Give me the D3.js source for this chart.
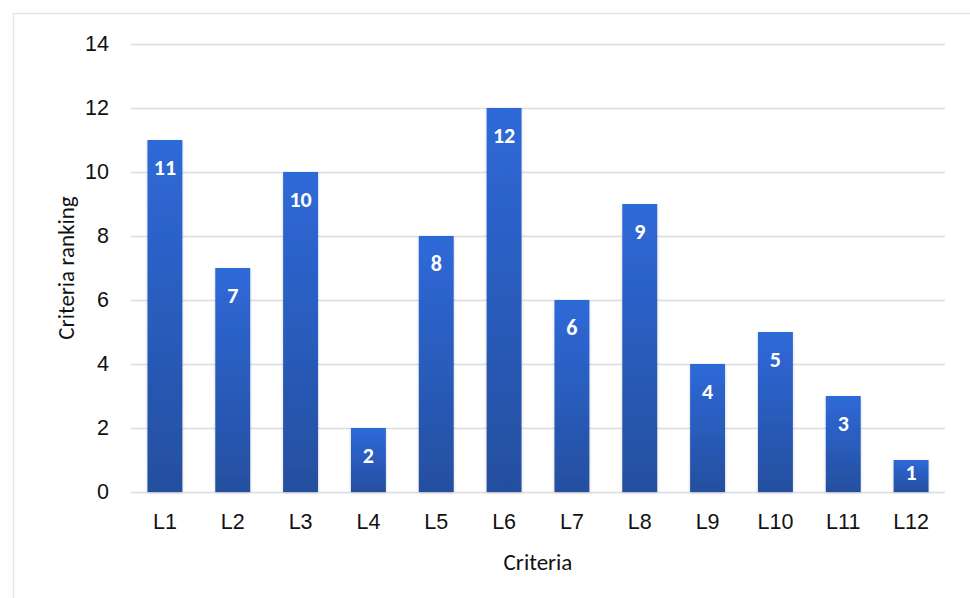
<!DOCTYPE html>
<html><head><meta charset="utf-8">
<script src="https://cdn.jsdelivr.net/npm/d3@7"></script>
<style>body{margin:0;background:#fff;}svg{display:block;font-family:Carlito,Calibri,Lato,sans-serif;}</style>
</head><body>
<script>
const categories = ["L1","L2","L3","L4","L5","L6","L7","L8","L9","L10","L11","L12"];
const values = [11,7,10,2,8,12,6,9,4,5,3,1];
const yTicks = [0,2,4,6,8,10,12,14];

const W=970,H=598;
const m={left:131,right:25,top:44,bottom:106};
const svg=d3.select("body").append("svg").attr("width",W).attr("height",H);
svg.append("rect").attr("x",13.5).attr("y",13.5).attr("width",W).attr("height",H).attr("fill","none").attr("stroke","#e3e6ea").attr("stroke-width",1.5);

const defs=svg.append("defs");
const g1=defs.append("linearGradient").attr("id","bg").attr("x1",0).attr("y1",0).attr("x2",0).attr("y2",1);
g1.append("stop").attr("offset","0%").attr("stop-color","#2f69d9");
g1.append("stop").attr("offset","100%").attr("stop-color","#244f9f");
const f=defs.append("filter").attr("id","sh").attr("x","-20%").attr("y","-5%").attr("width","140%").attr("height","110%");
f.append("feDropShadow").attr("dx",0).attr("dy",1).attr("stdDeviation",1.5).attr("flood-color","#000").attr("flood-opacity",0.18);

const x=d3.scaleBand().domain(categories).range([m.left,W-m.right]).paddingInner(0.485).paddingOuter(0.2425);
const y=d3.scaleLinear().domain([0,14]).range([H-m.bottom,m.top]);

const ga=svg.append("g").attr("transform",`translate(${m.left},0)`)
  .call(d3.axisLeft(y).tickValues(yTicks).tickSize(-(W-m.right-m.left)).tickPadding(22));
ga.select(".domain").remove();
ga.selectAll(".tick line").attr("stroke","#d9dce1").attr("stroke-width",1.5);
ga.selectAll(".tick text").attr("font-size",21.5).attr("fill","#111").attr("font-family","inherit");

svg.append("g").selectAll("rect").data(values).join("rect")
  .attr("x",(d,i)=>x(categories[i])).attr("width",x.bandwidth())
  .attr("y",d=>y(d)).attr("height",d=>y(0)-y(d))
  .attr("fill","url(#bg)").attr("filter","url(#sh)");

svg.append("g").selectAll("text").data(values).join("text")
  .attr("x",(d,i)=>x(categories[i])+x.bandwidth()/2)
  .attr("y",d=>y(d)+Math.min(35,(y(0)-y(d))/2+4))
  .attr("text-anchor","middle").attr("fill","#fff").attr("font-weight","bold").attr("font-size",22)
  .text(d=>d);

const gx=svg.append("g").attr("transform",`translate(0,${y(0)})`).call(d3.axisBottom(x).tickSize(0).tickPadding(22));
gx.select(".domain").remove();
gx.selectAll(".tick text").attr("font-size",21.5).attr("fill","#111").attr("font-family","inherit");

svg.append("text").attr("x",(m.left+W-m.right)/2).attr("y",570).attr("text-anchor","middle").attr("font-size",23).attr("fill","#111").text("Criteria");
svg.append("text").attr("transform",`translate(74,${(y(0)+y(14))/2}) rotate(-90)`).attr("text-anchor","middle").attr("font-size",23).attr("fill","#111").text("Criteria ranking");
</script>
</body></html>
